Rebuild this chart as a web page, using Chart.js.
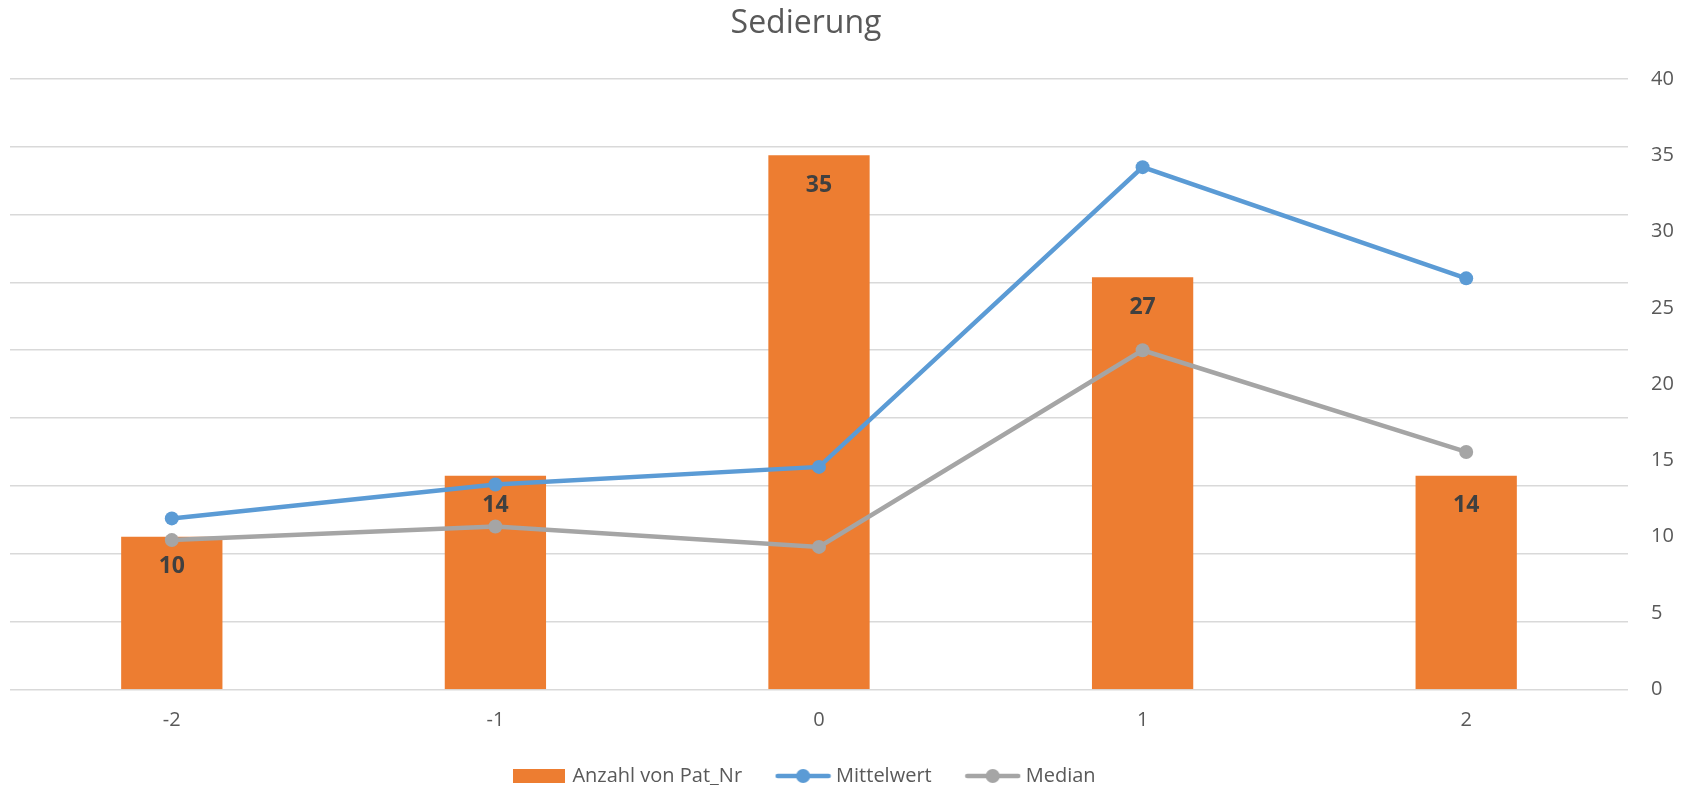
<!DOCTYPE html>
<html>
<head>
<meta charset="utf-8">
<script src="https://cdn.jsdelivr.net/npm/chart.js@4/dist/chart.umd.min.js"></script>
<style>
  html, body { margin: 0; padding: 0; background: #fff; }
</style>
</head>
<body>
<canvas id="chart" width="1686" height="785"></canvas>
<script>
var categories = ['-2', '-1', '0', '1', '2'];
var anzahl = [10, 14, 35, 27, 14];
var mittelwert = [12.6, 15.1, 16.4, 38.5, 30.3];
var median = [11, 12, 10.5, 25, 17.5];
var rightTicks = [0, 5, 10, 15, 20, 25, 30, 35, 40];
var gridTicks = [0, 5, 10, 15, 20, 25, 30, 35, 40, 45];

var FONT = "'Open Sans', 'DejaVu Sans', sans-serif";
var ORANGE = '#ED7D31', BLUE = '#5B9BD5', GREY = '#A5A5A5';

// legend symbols like Excel: a box for the bars, a line with a dot for the lines
function boxSymbol(color) {
  var c = document.createElement('canvas');
  c.width = 52; c.height = 14;
  var g = c.getContext('2d');
  g.fillStyle = color;
  g.fillRect(0, 0, 52, 14);
  return c;
}
function lineSymbol(color) {
  var c = document.createElement('canvas');
  c.width = 57; c.height = 16;
  var g = c.getContext('2d');
  g.strokeStyle = color; g.lineWidth = 4.5; g.lineCap = 'round';
  g.beginPath(); g.moveTo(3, 8); g.lineTo(54, 8); g.stroke();
  g.fillStyle = color;
  g.beginPath(); g.arc(28.5, 8, 7, 0, Math.PI * 2); g.fill();
  return c;
}

var barLabels = {
  id: 'barLabels',
  afterLayout: function(chart) {
    // Excel centres title and legend a little left of the plot centre
    [chart.titleBlock, chart.legend].forEach(function(b) {
      b.left -= 13; b.right -= 13;
    });
  },
  afterDatasetsDraw: function(chart) {
    var meta = chart.getDatasetMeta(0);
    var ctx = chart.ctx;
    ctx.save();
    ctx.font = 'bold 23px ' + FONT;
    ctx.fillStyle = '#404040';
    ctx.textAlign = 'center';
    ctx.textBaseline = 'middle';
    meta.data.forEach(function(bar, i) {
      ctx.fillText(String(anzahl[i]), bar.x, bar.y + 30);
    });
    ctx.restore();
  }
};

var ctx = document.getElementById('chart').getContext('2d');
var myChart = new Chart(ctx, {
  type: 'bar',
  data: {
    labels: categories,
    datasets: [{
      type: 'bar',
      label: 'Anzahl von Pat_Nr',
      data: anzahl,
      backgroundColor: ORANGE,
      yAxisID: 'y',
      barPercentage: 0.313,
      categoryPercentage: 1,
      order: 2
    }, {
      type: 'line',
      label: 'Mittelwert',
      data: mittelwert,
      borderColor: BLUE,
      backgroundColor: BLUE,
      borderWidth: 4.5,
      pointRadius: 7,
      pointBorderWidth: 0,
      pointBackgroundColor: BLUE,
      yAxisID: 'y1',
      tension: 0,
      order: 1
    }, {
      type: 'line',
      label: 'Median',
      data: median,
      borderColor: GREY,
      backgroundColor: GREY,
      borderWidth: 4.5,
      pointRadius: 7,
      pointBorderWidth: 0,
      pointBackgroundColor: GREY,
      yAxisID: 'y1',
      tension: 0,
      order: 1
    }]
  },
  options: {
    responsive: false,
    animation: false,
    layout: { padding: { left: 10, right: 12, top: 0, bottom: -11 } },
    plugins: {
      tooltip: { enabled: false },
      title: {
        display: true,
        text: 'Sedierung',
        color: '#595959',
        font: { family: FONT, size: 32, weight: 'normal' },
        padding: { top: 5, bottom: 35.6 },
        fullSize: false
      },
      legend: {
        position: 'bottom',
        fullSize: false,
        labels: {
          usePointStyle: true,
          pointStyleWidth: 46,
          padding: 38,
          color: '#595959',
          font: { family: FONT, size: 20 },
          generateLabels: function(chart) {
            var syms = [boxSymbol(ORANGE), lineSymbol(BLUE), lineSymbol(GREY)];
            return chart.data.datasets.map(function(ds, i) {
              return {
                text: ds.label,
                fillStyle: ds.backgroundColor,
                strokeStyle: ds.backgroundColor,
                lineWidth: 0,
                pointStyle: syms[i],
                hidden: false,
                datasetIndex: i,
                fontColor: '#595959'
              };
            });
          }
        }
      }
    },
    scales: {
      x: {
        grid: { display: false, drawTicks: false },
        border: { display: false },
        ticks: { color: '#595959', font: { family: FONT, size: 20 }, padding: 19 },
        afterFit: function(axis) { axis.height = 38.7; }
      },
      y1: {
        position: 'left',
        min: 0,
        max: gridTicks[gridTicks.length - 1],
        afterBuildTicks: function(axis) {
          axis.ticks = gridTicks.map(function(v) { return { value: v }; });
        },
        grid: { color: '#D9D9D9', lineWidth: 1.5, drawTicks: false },
        border: { display: false },
        ticks: { display: false }
      },
      y: {
        position: 'right',
        min: 0,
        max: rightTicks[rightTicks.length - 1],
        afterBuildTicks: function(axis) {
          axis.ticks = rightTicks.map(function(v) { return { value: v }; });
        },
        grid: { display: false, drawTicks: false },
        border: { display: false },
        ticks: { color: '#595959', font: { family: FONT, size: 20 }, padding: 23 },
        afterFit: function(axis) { axis.width = 46; }
      }
    }
  },
  plugins: [barLabels]
});
</script>
</body>
</html>
